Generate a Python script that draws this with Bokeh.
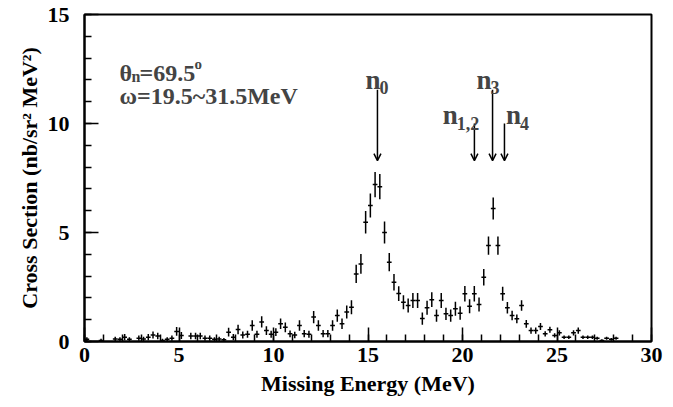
from bokeh.plotting import figure
from bokeh.models import Label, Arrow, OpenHead, SingleIntervalTicker, ColumnDataSource
from bokeh.embed import file_html
from bokeh.resources import INLINE

# ---- data (Missing energy bins, 0.25 MeV wide) ----
energy = [0.125, 0.875, 1.625, 1.875, 2.125, 2.375, 2.875, 3.125, 3.375, 3.625,
          3.875, 4.125, 4.375, 4.625, 4.875, 5.125, 5.625, 5.875, 6.125, 6.375,
          6.625, 6.875, 7.125, 7.375, 7.625, 7.875,
          8.125, 8.375, 8.625, 8.875, 9.125, 9.375, 9.625, 9.875, 10.125, 10.375,
          10.625, 10.875, 11.125, 11.375, 11.625, 11.875, 12.125, 12.375, 12.625, 12.875,
          13.125, 13.375, 13.625, 13.875, 14.125, 14.375, 14.625, 14.875, 15.125, 15.375,
          15.625, 15.875, 16.125, 16.375, 16.625, 16.875, 17.125, 17.375, 17.625, 17.875,
          18.125, 18.375, 18.625, 18.875, 19.125, 19.375, 19.625, 19.875, 20.125, 20.375,
          20.625, 20.875, 21.125, 21.375, 21.625, 21.875, 22.125, 22.375, 22.625, 22.875,
          23.125, 23.375, 23.625, 23.875, 24.125, 24.375, 24.625, 24.875, 25.125, 25.375,
          25.625, 25.875, 26.125, 26.375, 26.625, 26.875, 27.125, 27.375, 27.625, 27.875, 28.125]
cross_section = [0.10, 0.05, 0.12, 0.10, 0.20, 0.10, 0.15, 0.12, 0.20, 0.30,
                 0.25, 0.05, 0.10, 0.15, 0.46, 0.28, 0.25, 0.25, 0.25, 0.15,
                 0.15, 0.10, 0.12, 0.08, 0.43, 0.20,
                 0.55, 0.30, 0.33, 0.73, 0.33, 0.90, 0.50, 0.33, 0.43, 0.81,
                 0.65, 0.35, 0.30, 0.73, 0.36, 0.33, 1.12, 0.73, 0.36, 0.36,
                 0.73, 1.19, 0.81, 1.35, 1.57, 3.10, 3.56, 5.47, 6.24, 7.20,
                 7.10, 5.00, 3.64, 2.72, 2.20, 1.80, 1.65, 1.88, 1.88, 1.05,
                 1.55, 1.92, 1.19, 1.88, 1.27, 1.19, 1.50, 1.30, 2.19, 1.62,
                 2.19, 1.70, 2.95, 4.40, 6.10, 4.40, 2.19, 1.55, 1.19, 1.04,
                 1.65, 0.81, 0.50, 0.50, 0.69, 0.35, 0.54, 0.28, 0.40, 0.20,
                 0.20, 0.40, 0.50, 0.20, 0.20, 0.20, 0.15, 0.05, 0.15, 0.10, 0.15]
error = [0.10, 0.08, 0.10, 0.10, 0.14, 0.10, 0.12, 0.10, 0.14, 0.16,
         0.15, 0.08, 0.10, 0.12, 0.20, 0.16, 0.15, 0.15, 0.15, 0.12,
         0.12, 0.10, 0.10, 0.08, 0.20, 0.14,
         0.22, 0.16, 0.16, 0.24, 0.16, 0.26, 0.20, 0.16, 0.18, 0.24,
         0.22, 0.16, 0.15, 0.24, 0.17, 0.16, 0.28, 0.24, 0.17, 0.17,
         0.24, 0.28, 0.24, 0.30, 0.32, 0.42, 0.45, 0.52, 0.55, 0.58,
         0.58, 0.50, 0.42, 0.38, 0.34, 0.32, 0.32, 0.34, 0.34, 0.28,
         0.32, 0.34, 0.28, 0.34, 0.28, 0.28, 0.32, 0.30, 0.36, 0.32,
         0.36, 0.32, 0.38, 0.42, 0.50, 0.42, 0.32, 0.26, 0.22, 0.20,
         0.24, 0.18, 0.14, 0.14, 0.16, 0.12, 0.14, 0.10, 0.12, 0.08,
         0.08, 0.12, 0.14, 0.08, 0.08, 0.08, 0.07, 0.05, 0.07, 0.06, 0.07]
bin_width = 0.25

# state markers
state_names = ["0", "1,2", "3", "4"]
state_x = [15.5, 20.63, 21.59, 22.22]
arrow_top = [11.55, 10.0, 11.55, 10.0]
arrow_bottom = [8.3, 8.3, 8.3, 8.3]
label_x = [14.87, 18.95, 20.74, 22.3]
label_y = [12.0, 10.37, 12.0, 10.37]

FONT = "Liberation Serif"

p = figure(width=665, height=399, x_range=(0, 30), y_range=(0, 15),
           output_backend="svg", toolbar_location=None,
           min_border_left=84, min_border_right=14, min_border_top=14, min_border_bottom=58)
p.background_fill_color = "white"
p.border_fill_color = "white"
p.outline_line_color = "black"
p.outline_line_width = 2
p.xgrid.visible = False
p.ygrid.visible = False

for ax in (p.xaxis[0], p.yaxis[0]):
    ax.ticker = SingleIntervalTicker(interval=5, num_minor_ticks=5)
    ax.major_tick_in = 14
    ax.major_tick_out = 0
    ax.minor_tick_in = 7
    ax.minor_tick_out = 0
    ax.axis_line_width = 2
    ax.major_tick_line_width = 1.5
    ax.minor_tick_line_width = 1.5
    ax.major_label_text_font = FONT
    ax.major_label_text_font_style = "bold"
    ax.major_label_text_font_size = "22px"
    ax.major_label_text_color = "black"
    ax.axis_label_text_font = FONT
    ax.axis_label_text_font_style = "bold"
    ax.axis_label_text_font_size = "22px"
    ax.axis_label_text_color = "black"

p.xaxis.axis_label = "Missing Energy (MeV)"
p.yaxis.axis_label = "Cross Section (nb/sr\u00b2 MeV\u00b2)"
p.xaxis.major_label_standoff = 6
p.yaxis.major_label_standoff = 15
p.xaxis.axis_label_standoff = 6
p.yaxis.axis_label_standoff = 3

src = ColumnDataSource(dict(
    x=energy, y=cross_section,
    x0=[e - bin_width / 2 for e in energy], x1=[e + bin_width / 2 for e in energy],
    ylo=[max(0.0, v - s) for v, s in zip(cross_section, error)],
    yhi=[v + s for v, s in zip(cross_section, error)],
))
p.segment(x0="x0", y0="y", x1="x1", y1="y", source=src, line_color="black", line_width=1.5)
p.segment(x0="x", y0="ylo", x1="x", y1="yhi", source=src, line_color="black", line_width=1.5)

for name, sx, yt, yb, lx, ly in zip(state_names, state_x, arrow_top, arrow_bottom, label_x, label_y):
    p.add_layout(Arrow(x_start=sx, y_start=yt, x_end=sx, y_end=yb, line_width=1.5,
                       end=OpenHead(size=7, line_width=1.5)))
    p.add_layout(Label(x=lx, y=ly, text="n", text_font=FONT, text_font_style="bold",
                       text_font_size="27px", text_baseline="alphabetic"))
    p.add_layout(Label(x=lx, y=ly, x_offset=14, y_offset=-8, text=name, text_font=FONT,
                       text_font_style="bold", text_font_size="18px", text_baseline="alphabetic"))

# annotation text
ax0, ay1, ay2 = 1.85, 12.32, 11.24
def lab(x, y, t, size, dx=0, dy=0):
    p.add_layout(Label(x=x, y=y, x_offset=dx, y_offset=dy, text=t, text_font=FONT,
                       text_font_style="bold", text_font_size=size, text_baseline="alphabetic"))
lab(ax0, ay1, "\u03b8", "24px")
lab(ax0, ay1, "n", "16px", dx=12, dy=-4)
lab(ax0, ay1, "=69.5", "24px", dx=20)
lab(ax0, ay1, "o", "15px", dx=75, dy=9)
lab(ax0, ay2, "\u03c9=19.5~31.5MeV", "24px")

open("out.html", "w").write(file_html(p, INLINE))
